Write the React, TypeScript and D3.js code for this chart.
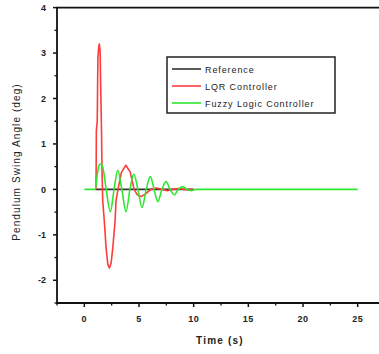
import React from "react";
import * as d3 from "d3";

// Pendulum swing angle responses (time in s, angle in deg)
const refTime = [1.0, 10.0];
const refAngle = [0, 0];

const lqrTime = [1.07, 1.1, 1.18, 1.24, 1.3, 1.37, 1.44, 1.5, 1.56, 1.62, 1.68, 1.83, 1.99, 2.15, 2.29, 2.45, 2.6, 2.81, 2.9, 3.08, 3.4, 3.8, 4.2, 4.55, 4.85, 5.19, 5.6, 6.1, 6.6, 7.1, 7.6, 8.1, 8.6, 9.1, 9.5, 9.9];
const lqrAngle = [0, 1.3, 1.5, 2.9, 3.1, 3.2, 3.05, 2.2, 1.45, 0.4, -0.24, -0.71, -1.29, -1.65, -1.73, -1.62, -1.29, -0.71, -0.24, 0, 0.38, 0.53, 0.38, 0, -0.12, -0.16, -0.1, 0, 0.03, 0, -0.03, 0, 0.02, 0, -0.01, 0];

const fuzzyTime = [0, 1.0, 1.2, 1.37, 1.53, 1.68, 2.0, 2.38, 2.72, 3.05, 3.43, 3.81, 4.17, 4.52, 4.9, 5.28, 5.66, 6.04, 6.38, 6.72, 7.1, 7.47, 7.85, 8.23, 8.6, 9.0, 9.38, 9.76, 10.2, 25];
const fuzzyAngle = [0, 0, 0.35, 0.54, 0.56, 0.5, 0, -0.49, 0, 0.42, 0, -0.49, 0, 0.34, 0, -0.4, 0, 0.28, 0, -0.27, 0, 0.17, 0, -0.12, 0, 0.06, 0, -0.03, 0, 0];

const xTicks = [0, 5, 10, 15, 20, 25];
const yTicks = [-2, -1, 0, 1, 2, 3, 4];

const seriesNames = ["Reference", "LQR Controller", "Fuzzy Logic Controller"];
const seriesColors = ["#333333", "#ff3b3b", "#2ee82e"];

const W = 379;
const H = 354;

export default function App() {
  const x = d3.scaleLinear().domain([-2.5, 27.5]).range([57, 385]);
  const y = d3.scaleLinear().domain([-2.5, 4]).range([303, 7.6]);

  const line = d3
    .line<[number, number]>()
    .x((d) => x(d[0]))
    .y((d) => y(d[1]));
  const smooth = d3
    .line<[number, number]>()
    .x((d) => x(d[0]))
    .y((d) => y(d[1]))
    .curve(d3.curveMonotoneX);

  const zip = (a: number[], b: number[]) => a.map((v, i) => [v, b[i]] as [number, number]);
  const paths = [
    line(zip(refTime, refAngle)),
    line(zip(lqrTime, lqrAngle)),
    smooth(zip(fuzzyTime, fuzzyAngle)),
  ];

  const xMinor = d3.range(-2.5, 27.6, 2.5).filter((v) => !xTicks.includes(v));
  const yMinor = d3.range(-2.5, 4.01, 0.5).filter((v) => !yTicks.includes(v));

  const x0 = x.range()[0];
  const y0 = y.range()[0];
  const yTop = y.range()[1];
  const xEnd = W + 10; // frame runs past the right edge of the view

  return (
    <svg
      width={W}
      height={H}
      style={{ position: "absolute", left: 0, top: 0, background: "#fff" }}
      fontFamily="'Liberation Sans', Arial, sans-serif"
    >
      {/* frame (left, top, bottom) */}
      <path
        d={`M${xEnd},${yTop}H${x0}V${y0}H${xEnd}`}
        fill="none"
        stroke="#111"
        strokeWidth={1.8}
      />

      {/* y axis ticks */}
      {yTicks.map((v) => (
        <g key={"yt" + v}>
          <line x1={x0 - 4} x2={x0} y1={y(v)} y2={y(v)} stroke="#111" strokeWidth={1.5} />
          <text x={46} y={y(v) + 3.2} fontSize={9} fontWeight="bold" textAnchor="end" fill="#222">
            {v}
          </text>
        </g>
      ))}
      {yMinor.map((v) => (
        <line key={"ym" + v} x1={x0 - 2.5} x2={x0} y1={y(v)} y2={y(v)} stroke="#111" strokeWidth={1.3} />
      ))}

      {/* x axis ticks */}
      {xTicks.map((v) => (
        <g key={"xt" + v}>
          <line x1={x(v)} x2={x(v)} y1={y0} y2={y0 + 4} stroke="#111" strokeWidth={1.5} />
          <text x={x(v)} y={321.5} fontSize={9} fontWeight="bold" textAnchor="middle" fill="#222" letterSpacing={0.5}>
            {v}
          </text>
        </g>
      ))}
      {xMinor.map((v) => (
        <line key={"xm" + v} x1={x(v)} x2={x(v)} y1={y0} y2={y0 + 2.5} stroke="#111" strokeWidth={1.3} />
      ))}

      {/* axis titles */}
      <text x={220} y={344} fontSize={10} fontWeight="bold" textAnchor="middle" fill="#222" letterSpacing={1.2}>
        Time (s)
      </text>
      <text
        transform={`translate(20,162) rotate(-90)`}
        fontSize={10}
        textAnchor="middle"
        fill="#222"
        letterSpacing={1.1}
      >
        Pendulum Swing Angle (deg)
      </text>

      {/* series */}
      <g fill="none" strokeLinejoin="round">
        {paths.map((p, i) => (
          <path key={"s" + i} d={p || ""} stroke={seriesColors[i]} strokeWidth={1.6} />
        ))}
      </g>

      {/* legend */}
      <rect x={167} y={57} width={168} height={56} fill="#fff" stroke="#222" strokeWidth={1.5} />
      {seriesNames.map((name, i) => (
        <g key={"lg" + i}>
          <line x1={172} x2={201} y1={69 + i * 17} y2={69 + i * 17} stroke={seriesColors[i]} strokeWidth={1.6} />
          <text x={205} y={72.5 + i * 17} fontSize={9} fill="#222" letterSpacing={0.9}>
            {name}
          </text>
        </g>
      ))}
    </svg>
  );
}
